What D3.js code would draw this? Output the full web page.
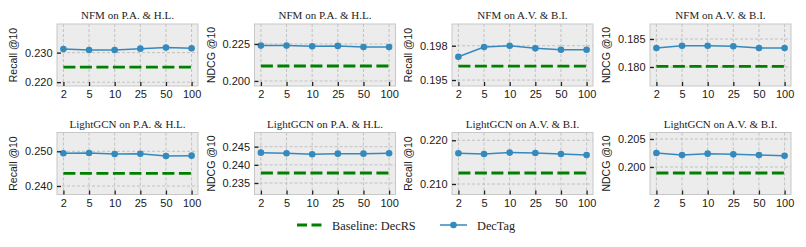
<!DOCTYPE html>
<html>
<head>
<meta charset="utf-8">
<script src="https://cdn.jsdelivr.net/npm/d3@7"></script>
<style>
  html, body { margin: 0; padding: 0; background: #ffffff; }
  svg { display: block; }
</style>
</head>
<body>
<svg id="chart" width="806" height="247"></svg>
<script>
// ---- Data ----
const kValues = ["2", "5", "10", "25", "50", "100"];

const titles = [
  "NFM on P.A. & H.L.", "NFM on P.A. & H.L.", "NFM on A.V. & B.I.", "NFM on A.V. & B.I.",
  "LightGCN on P.A. & H.L.", "LightGCN on P.A. & H.L.", "LightGCN on A.V. & B.I.", "LightGCN on A.V. & B.I."
];
const yLabels = ["Recall @10", "NDCG @10", "Recall @10", "NDCG @10",
                 "Recall @10", "NDCG @10", "Recall @10", "NDCG @10"];

const nfmPaHlRecall = [0.23125, 0.2309, 0.2309, 0.23135, 0.2317, 0.2315];
const nfmPaHlNdcg   = [0.2239, 0.2239, 0.2235, 0.2237, 0.2230, 0.2230];
const nfmAvBiRecall = [0.19704, 0.19789, 0.1980, 0.19777, 0.19765, 0.19765];
const nfmAvBiNdcg   = [0.18339, 0.1838, 0.1838, 0.1837, 0.18339, 0.18339];
const lgnPaHlRecall = [0.24942, 0.24951, 0.24922, 0.2493, 0.24865, 0.24875];
const lgnPaHlNdcg   = [0.24335, 0.24318, 0.2429, 0.24308, 0.24308, 0.24318];
const lgnAvBiRecall = [0.21703, 0.21687, 0.21718, 0.2171, 0.21687, 0.21664];
const lgnAvBiNdcg   = [0.2025, 0.20214, 0.20238, 0.20226, 0.20214, 0.20202];

const baselineDecRS = [0.2251, 0.2101, 0.19622, 0.18012, 0.24366, 0.23775, 0.21252, 0.19893];

const yTicks = [
  [0.220, 0.230], [0.200, 0.225], [0.195, 0.198], [0.180, 0.185],
  [0.240, 0.250], [0.235, 0.240, 0.245], [0.210, 0.220], [0.200, 0.205]
];
const yLimits = [
  [0.2187, 0.2397], [0.1966, 0.2385], [0.19448, 0.1999], [0.17661, 0.18768],
  [0.23755, 0.25542], [0.23184, 0.2489], [0.2076, 0.22178], [0.19509, 0.20616]
];

const dectagSeries = [nfmPaHlRecall, nfmPaHlNdcg, nfmAvBiRecall, nfmAvBiNdcg,
                      lgnPaHlRecall, lgnPaHlNdcg, lgnAvBiRecall, lgnAvBiNdcg];

// ---- Layout ----
const colLeft = [57, 254.5, 452, 650];
const rowTop = [24, 132.5];
const plotW = 141, plotH = 62;
const blue = "#348ABD", green = "#008000";
const sans = "'Liberation Sans', Arial, sans-serif";
const serif = "'Liberation Serif', 'Times New Roman', serif";

const svg = d3.select("#chart");

dectagSeries.forEach((vals, i) => {
  const r = Math.floor(i / 4), c = i % 4;
  const x0 = colLeft[c], y0 = rowTop[r];
  const g = svg.append("g").attr("transform", `translate(${x0},${y0})`);

  const x = d3.scalePoint().domain(kValues).range([0, plotW]).padding(0.25);
  const y = d3.scaleLinear().domain(yLimits[i]).range([plotH, 0]);

  // background
  g.append("rect").attr("width", plotW).attr("height", plotH).attr("fill", "#ececec");

  // grid
  g.selectAll(".vg").data(kValues).join("line")
    .attr("x1", d => x(d)).attr("x2", d => x(d))
    .attr("y1", 0).attr("y2", plotH)
    .attr("stroke", "#b8b8b8").attr("stroke-width", 0.8).attr("stroke-dasharray", "3,2");
  g.selectAll(".hg").data(yTicks[i]).join("line")
    .attr("x1", 0).attr("x2", plotW)
    .attr("y1", d => y(d)).attr("y2", d => y(d))
    .attr("stroke", "#b8b8b8").attr("stroke-width", 0.8).attr("stroke-dasharray", "3,2");

  // border
  g.append("rect").attr("width", plotW).attr("height", plotH)
    .attr("fill", "none").attr("stroke", "#c8c8c8").attr("stroke-width", 1);

  // baseline
  const base = kValues.map(k => ({ k, v: baselineDecRS[i] }));
  g.append("path").datum(base)
    .attr("d", d3.line().x(d => x(d.k)).y(d => y(d.v)))
    .attr("fill", "none").attr("stroke", green).attr("stroke-width", 2.8)
    .attr("stroke-dasharray", "12,4.5");

  // DecTag line
  const pts = kValues.map((k, j) => ({ k, v: vals[j] }));
  g.append("path").datum(pts)
    .attr("d", d3.line().x(d => x(d.k)).y(d => y(d.v)))
    .attr("fill", "none").attr("stroke", blue).attr("stroke-width", 1.5);
  g.selectAll(".pt").data(pts).join("circle")
    .attr("cx", d => x(d.k)).attr("cy", d => y(d.v)).attr("r", 3.3)
    .attr("fill", blue);

  // axes
  const yAxis = d3.axisLeft(y).tickValues(yTicks[i]).tickFormat(d3.format(".3f"))
    .tickSizeInner(-4).tickSizeOuter(0).tickPadding(4.5);
  const ya = g.append("g").call(yAxis);
  ya.select(".domain").remove();
  ya.selectAll("line").attr("stroke", "#222").attr("stroke-width", 1.3);
  ya.selectAll("text").attr("font-family", sans).attr("font-size", "11px").attr("fill", "#1a1a1a");

  const xAxis = d3.axisBottom(x).tickSizeInner(-4).tickSizeOuter(0).tickPadding(4.5);
  const xa = g.append("g").attr("transform", `translate(0,${plotH})`).call(xAxis);
  xa.select(".domain").remove();
  xa.selectAll("line").attr("stroke", "#222").attr("stroke-width", 1.3);
  xa.selectAll("text").attr("font-family", sans).attr("font-size", "11px").attr("fill", "#1a1a1a");

  // title
  g.append("text").attr("x", plotW / 2).attr("y", -5)
    .attr("text-anchor", "middle").attr("font-family", serif).attr("font-size", "11px")
    .attr("fill", "#222").text(titles[i]);

  // y label
  g.append("text")
    .attr("transform", `translate(${-40},${plotH / 2}) rotate(-90)`)
    .attr("text-anchor", "middle").attr("font-family", sans).attr("font-size", "10.5px")
    .attr("fill", "#1a1a1a").text(yLabels[i]);
});

// ---- Legend ----
const leg = svg.append("g");
leg.append("line").attr("x1", 297).attr("x2", 322).attr("y1", 225).attr("y2", 225)
  .attr("stroke", green).attr("stroke-width", 2.8).attr("stroke-dasharray", "10,4.5");
leg.append("text").attr("x", 332).attr("y", 229.5).attr("font-family", serif)
  .attr("font-size", "12.3px").attr("fill", "#222").text("Baseline: DecRS");
leg.append("line").attr("x1", 440).attr("x2", 467).attr("y1", 225).attr("y2", 225)
  .attr("stroke", blue).attr("stroke-width", 1.5);
leg.append("circle").attr("cx", 453.5).attr("cy", 225).attr("r", 3.3).attr("fill", blue);
leg.append("text").attr("x", 477).attr("y", 229.5).attr("font-family", serif)
  .attr("font-size", "12.3px").attr("fill", "#222").text("DecTag");
</script>
</body>
</html>
